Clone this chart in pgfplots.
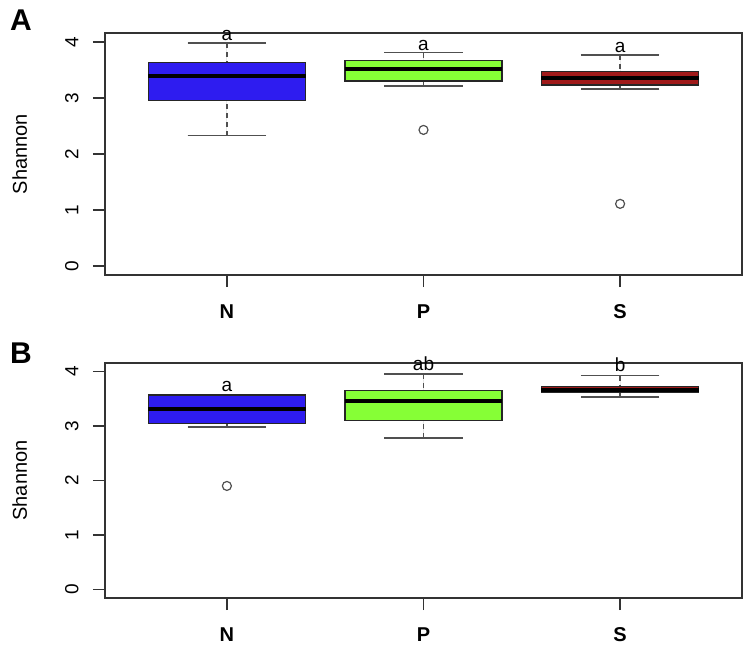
\documentclass[border=0pt]{standalone}
\usepackage{pgfplots}
\pgfplotsset{compat=1.18}
\usepgfplotslibrary{statistics}
\usepackage{fontspec}
\setmainfont{Liberation Sans}
\definecolor{boxblue}{HTML}{2E1CF0}
\definecolor{boxgreen}{HTML}{86FF36}
\definecolor{boxred}{HTML}{A01A1A}
\definecolor{axgray}{HTML}{333333}
\definecolor{whgray}{HTML}{505050}

\pgfplotsset{
  shannon/.style={
    scale only axis,
    width=637pt,
    xmin=0.38, xmax=3.62,
    ymin=-0.16, ymax=4.16,
    xtick={1,2,3}, xticklabels={N,P,S},
    ytick={0,1,2,3,4},
    tick align=outside,
    major tick length=12pt,
    xtick pos=bottom, ytick pos=left,
    tick style={line width=1.3pt, color=axgray},
    axis line style={line width=1.5pt, color=axgray},
    yticklabel style={rotate=90, anchor=south, font=\fontsize{19}{20}\selectfont},
    yticklabel shift=11pt,
    xticklabel style={font=\fontsize{20}{22}\selectfont\bfseries},
    xticklabel shift=14pt,
    /pgf/number format/assume math mode=true,
    ylabel={Shannon},
    every axis y label/.style={at={(axis description cs:-0.134,0.5)}, rotate=90, anchor=center, font=\fontsize{20}{22}\selectfont},
    boxplot/draw direction=y,
    boxplot/box extend=0.8,
    boxplot/whisker extend=0.4,
    boxplot/draw/lower whisker/.code={%
      \draw[whgray, line width=1.6pt, dash pattern=on 5pt off 4pt]
        (boxplot cs:\pgfplotsboxplotvalue{lower whisker}) --
        (boxplot cs:\pgfplotsboxplotvalue{lower quartile});
      \draw[whgray, line width=1.6pt, solid]
        (boxplot whisker cs:\pgfplotsboxplotvalue{lower whisker},0) --
        (boxplot whisker cs:\pgfplotsboxplotvalue{lower whisker},1);
    },
    boxplot/draw/upper whisker/.code={%
      \draw[whgray, line width=1.6pt, dash pattern=on 5pt off 4pt]
        (boxplot cs:\pgfplotsboxplotvalue{upper whisker}) --
        (boxplot cs:\pgfplotsboxplotvalue{upper quartile});
      \draw[whgray, line width=1.6pt, solid]
        (boxplot whisker cs:\pgfplotsboxplotvalue{upper whisker},0) --
        (boxplot whisker cs:\pgfplotsboxplotvalue{upper whisker},1);
    },
    boxplot/every median/.style={line width=4pt, draw=black},
    clip=false,
  },
  bx/.style={draw=black!85, line width=1.4pt, fill=#1, solid,
    mark=o, mark size=4.5pt, mark options={solid, line width=1.2pt, fill=white, draw=whgray}},
}
\tikzset{lett/.style={font=\fontsize{19}{20}\selectfont, anchor=base}}

\begin{document}
\begin{tikzpicture}
\path[use as bounding box] (0pt,0pt) rectangle (747pt,-650pt);

% ---------------- Panel A ----------------
\begin{axis}[shannon, height=242pt, at={(105pt,-275pt)}, anchor=south west]
\addplot[bx=boxblue, boxplot prepared={draw position=1,
  lower whisker=2.33, lower quartile=2.96, median=3.40, upper quartile=3.63, upper whisker=3.98}]
  coordinates {};
\addplot[bx=boxgreen, boxplot prepared={draw position=2,
  lower whisker=3.21, lower quartile=3.30, median=3.51, upper quartile=3.67, upper whisker=3.81}]
  table[row sep=\\, y index=0] {v\\ 2.43\\};
\addplot[bx=boxred, boxplot prepared={draw position=3,
  lower whisker=3.16, lower quartile=3.23, median=3.36, upper quartile=3.47, upper whisker=3.77}]
  table[row sep=\\, y index=0] {v\\ 1.11\\};
\node[lett] at (axis cs:1,4.03) {a};
\node[lett] at (axis cs:2,3.85) {a};
\node[lett] at (axis cs:3,3.82) {a};
\end{axis}

% ---------------- Panel B ----------------
\begin{axis}[shannon, height=235pt, at={(105pt,-598pt)}, anchor=south west]
\addplot[bx=boxblue, boxplot prepared={draw position=1,
  lower whisker=2.98, lower quartile=3.05, median=3.31, upper quartile=3.57, upper whisker=3.57}]
  table[row sep=\\, y index=0] {v\\ 1.90\\};
\addplot[bx=boxgreen, boxplot prepared={draw position=2,
  lower whisker=2.78, lower quartile=3.10, median=3.46, upper quartile=3.65, upper whisker=3.96}]
  coordinates {};
\addplot[bx=boxred, boxplot prepared={draw position=3,
  lower whisker=3.53, lower quartile=3.62, median=3.67, upper quartile=3.73, upper whisker=3.93}]
  coordinates {};
\node[lett] at (axis cs:1,3.63) {a};
\node[lett] at (axis cs:2,4.03) {ab};
\node[lett] at (axis cs:3,4.00) {b};
\end{axis}

\node[font=\fontsize{30}{30}\selectfont\bfseries] at (21pt,-20pt) {A};
\node[font=\fontsize{30}{30}\selectfont\bfseries] at (21pt,-353pt) {B};
\end{tikzpicture}
\end{document}
